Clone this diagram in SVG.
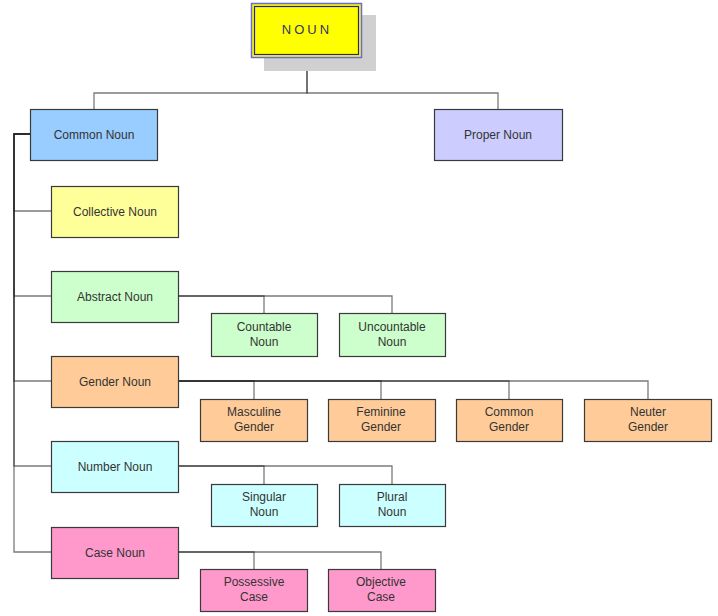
<svg xmlns="http://www.w3.org/2000/svg" width="718" height="616" viewBox="0 0 718 616">
<style>
.box{stroke:#3a3a3a;stroke-width:1.2}
.t{font-family:"Liberation Sans",Arial,sans-serif;font-size:12px;fill:#333;text-anchor:middle}
.c{fill:none;stroke:#222;stroke-opacity:0.6;stroke-width:1.3}
</style>
<rect width="718" height="616" fill="#fff"/>
<g id="connectors">
<path class="c" d="M307,57V93H94V109"/>
<path class="c" d="M307,57V93H498V109"/>
<path class="c" d="M30,134H14V211H51"/>
<path class="c" d="M30,134H14V296H51"/>
<path class="c" d="M30,134H14V381H51"/>
<path class="c" d="M30,134H14V466H51"/>
<path class="c" d="M30,134H14V552H51"/>
<path class="c" d="M179,296H264V313"/>
<path class="c" d="M179,296H392V313"/>
<path class="c" d="M179,381H254V399"/>
<path class="c" d="M179,381H381V399"/>
<path class="c" d="M179,381H509V399"/>
<path class="c" d="M179,381H648V399"/>
<path class="c" d="M179,466H264V484"/>
<path class="c" d="M179,466H392V484"/>
<path class="c" d="M179,552H254V569"/>
<path class="c" d="M179,552H381V569"/>
</g>
<g id="noun">
<rect x="264" y="15" width="112" height="56" fill="#d0d0d0"/>
<rect x="251.5" y="3.5" width="110" height="54" fill="#ffff00" stroke="#6666ee" stroke-width="1.5"/>
<rect x="254.5" y="6.5" width="104" height="48" fill="none" stroke="#2222aa" stroke-width="1.2"/>
<text x="307" y="34" class="t" style="font-size:13px;letter-spacing:3px;fill:#333366">NOUN</text>
</g>
<g id="common-noun"><rect class="box" x="30.5" y="109.5" width="127" height="51" fill="#99ccff"/><text class="t" x="94" y="139">Common Noun</text></g>
<g id="proper-noun"><rect class="box" x="434.5" y="109.5" width="128" height="51" fill="#ccccff"/><text class="t" x="498" y="139">Proper Noun</text></g>
<g id="collective-noun"><rect class="box" x="51.5" y="186.5" width="127" height="51" fill="#ffff99"/><text class="t" x="115" y="216">Collective Noun</text></g>
<g id="abstract-noun"><rect class="box" x="51.5" y="271.5" width="127" height="51" fill="#ccffcc"/><text class="t" x="115" y="301">Abstract Noun</text></g>
<g id="gender-noun"><rect class="box" x="51.5" y="356.5" width="127" height="51" fill="#ffcc99"/><text class="t" x="115" y="386">Gender Noun</text></g>
<g id="number-noun"><rect class="box" x="51.5" y="441.5" width="127" height="51" fill="#ccffff"/><text class="t" x="115" y="471">Number Noun</text></g>
<g id="case-noun"><rect class="box" x="51.5" y="527.5" width="127" height="51" fill="#ff99cc"/><text class="t" x="115" y="557">Case Noun</text></g>
<g id="countable-noun"><rect class="box" x="211.5" y="313.5" width="106" height="43" fill="#ccffcc"/><text class="t" x="264" y="331">Countable</text><text class="t" x="264" y="346">Noun</text></g>
<g id="uncountable-noun"><rect class="box" x="339.5" y="313.5" width="106" height="43" fill="#ccffcc"/><text class="t" x="392" y="331">Uncountable</text><text class="t" x="392" y="346">Noun</text></g>
<g id="masculine-gender"><rect class="box" x="200.5" y="399.5" width="107" height="42" fill="#ffcc99"/><text class="t" x="254" y="416">Masculine</text><text class="t" x="254" y="431">Gender</text></g>
<g id="feminine-gender"><rect class="box" x="328.5" y="399.5" width="107" height="42" fill="#ffcc99"/><text class="t" x="381" y="416">Feminine</text><text class="t" x="381" y="431">Gender</text></g>
<g id="common-gender"><rect class="box" x="456.5" y="399.5" width="106" height="42" fill="#ffcc99"/><text class="t" x="509" y="416">Common</text><text class="t" x="509" y="431">Gender</text></g>
<g id="neuter-gender"><rect class="box" x="584.5" y="399.5" width="127" height="42" fill="#ffcc99"/><text class="t" x="648" y="416">Neuter</text><text class="t" x="648" y="431">Gender</text></g>
<g id="singular-noun"><rect class="box" x="211.5" y="484.5" width="106" height="42" fill="#ccffff"/><text class="t" x="264" y="501">Singular</text><text class="t" x="264" y="516">Noun</text></g>
<g id="plural-noun"><rect class="box" x="339.5" y="484.5" width="106" height="42" fill="#ccffff"/><text class="t" x="392" y="501">Plural</text><text class="t" x="392" y="516">Noun</text></g>
<g id="possessive-case"><rect class="box" x="200.5" y="569.5" width="107" height="42" fill="#ff99cc"/><text class="t" x="254" y="586">Possessive</text><text class="t" x="254" y="601">Case</text></g>
<g id="objective-case"><rect class="box" x="328.5" y="569.5" width="107" height="42" fill="#ff99cc"/><text class="t" x="381" y="586">Objective</text><text class="t" x="381" y="601">Case</text></g>
</svg>
